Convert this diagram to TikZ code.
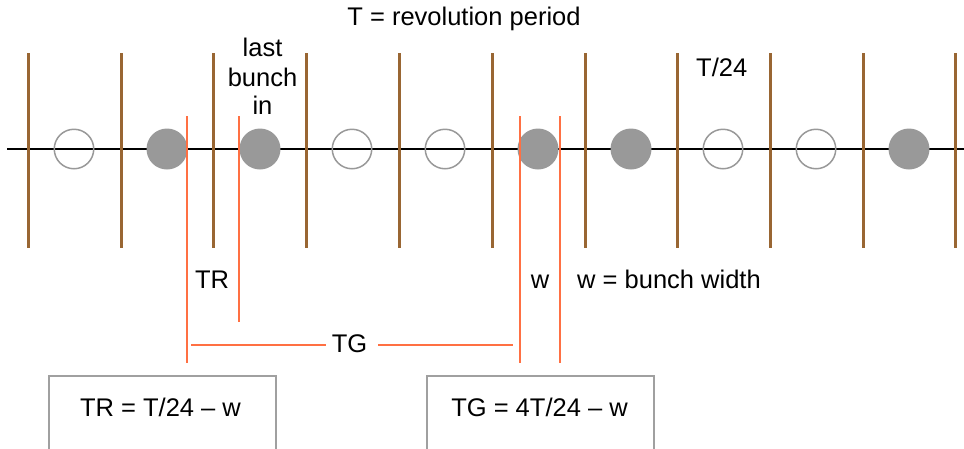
\documentclass[tikz,border=0pt]{standalone}
\usepackage{fontspec}
\setmainfont{Liberation Sans}
\definecolor{brownln}{RGB}{153,102,51}
\definecolor{orangeln}{RGB}{255,112,67}
\definecolor{bunchgray}{RGB}{153,153,153}
\definecolor{boxgray}{RGB}{160,160,160}
\begin{document}
\begin{tikzpicture}[x=1pt,y=-1pt,
  txt/.style={inner sep=0pt,anchor=base,font=\fontsize{25.5}{29.5}\selectfont},
  slot/.style={draw=brownln,line width=3pt},
  full/.style={circle,fill=bunchgray,minimum size=41pt,inner sep=0pt},
  empty/.style={circle,draw=bunchgray,line width=1.5pt,minimum size=39.5pt,inner sep=0pt},
  orline/.style={draw=orangeln,line width=2pt},
  eqbox/.style={draw=boxgray,line width=1.5pt}]
\useasboundingbox (0,0) rectangle (964,448);
% beam axis
\coordinate (axL) at (7,149);
\coordinate (axR) at (964,149);
\draw[black,line width=1.5pt] (axL) -- (axR);
% slot boundaries
\foreach \i/\x in {1/28,2/121,3/213,4/306,5/399,6/492,7/585,8/677,9/770,10/863,11/955}{
  \coordinate (s\i t) at (\x,53);
  \coordinate (s\i b) at (\x,248);
  \draw[slot] (s\i t) -- (s\i b);
}
% bunches
\node[empty] (b1) at (74,149) {};
\node[full]  (b2) at (167,149) {};
\node[full]  (b3) at (260,149) {};
\node[empty] (b4) at (352,149) {};
\node[empty] (b5) at (445,149) {};
\node[full]  (b6) at (538,149) {};
\node[full]  (b7) at (631,149) {};
\node[empty] (b8) at (723,149) {};
\node[empty] (b9) at (816,149) {};
\node[full]  (b10) at (909,149) {};
% orange markers
\coordinate (m1t) at (187,116); \coordinate (m1b) at (187,363);
\coordinate (m2t) at (239,116); \coordinate (m2b) at (239,322);
\coordinate (m3t) at (520,116); \coordinate (m3b) at (520,363);
\coordinate (m4t) at (560,116); \coordinate (m4b) at (560,363);
\draw[orline] (m1t) -- (m1b);
\draw[orline] (m2t) -- (m2b);
\draw[orline] (m3t) -- (m3b);
\draw[orline] (m4t) -- (m4b);
% TG dimension
\node[txt] (tg) at (349.5,352.3) {TG};
\coordinate (tgL) at (191,345);
\coordinate (tgR) at (513,345);
\coordinate (tgM1) at (326,345);
\coordinate (tgM2) at (378,345);
\draw[orline] (tgL) -- (tgM1);
\draw[orline] (tgM2) -- (tgR);
% labels
\node[txt] (title) at (464,25) {T = revolution period};
\node[txt] (last) at (262.5,56.7) {last};
\node[txt] (bunch) at (262.5,86) {bunch};
\node[txt] (in) at (262.5,114) {in};
\node[txt] (t24) at (721.7,76) {T/24};
\node[txt] (tr) at (212,288.3) {TR};
\node[txt] (w) at (540,288.3) {w};
\node[txt,anchor=base west] (wdef) at (577,288.3) {w = bunch width};
% equation boxes
\draw[eqbox] (49,376) rectangle (276,460);
\draw[eqbox] (427,376) rectangle (654,460);
\node[txt] (eq1) at (160.5,416.7) {TR = T/24 – w};
\node[txt] (eq2) at (539.5,416.7) {TG = 4T/24 – w};
\end{tikzpicture}
\end{document}
